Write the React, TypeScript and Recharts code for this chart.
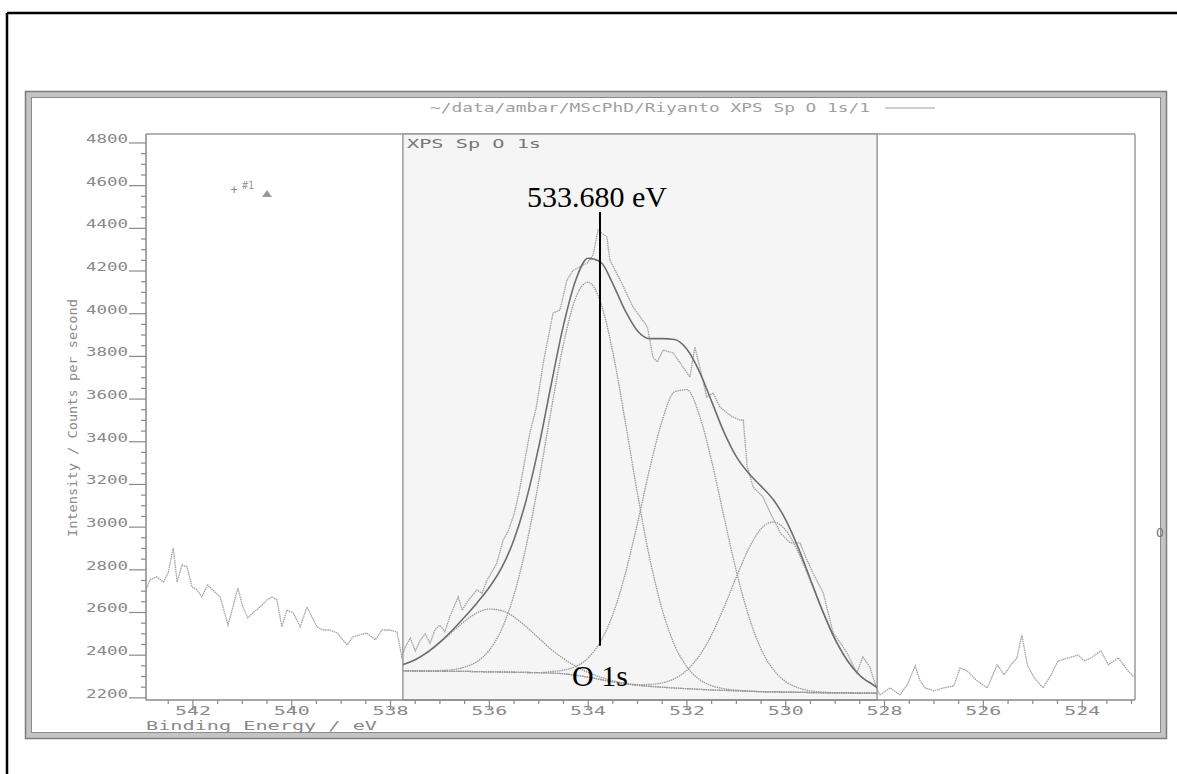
import React from 'react'
import { LineChart, Line, XAxis, YAxis, ReferenceArea, ReferenceLine } from 'recharts'

// raw O 1s spectrum: binding energy (eV) and counts per second
const rawEnergy = [
  542.97, 542.87, 542.73, 542.6, 542.5, 542.4, 542.32, 542.22, 542.12, 542.02,
  541.92, 541.82, 541.7, 541.6, 541.45, 541.29, 541.19, 541.09, 540.99, 540.89,
  540.79, 540.64, 540.5, 540.4, 540.3, 540.2, 540.1, 539.97, 539.83, 539.69,
  539.59, 539.49, 539.37, 539.23, 539.08, 538.88, 538.76, 538.62, 538.48, 538.31,
  538.17, 538.01, 537.87, 537.77, 537.7, 537.6, 537.5, 537.4, 537.3, 537.2,
  537.1, 537.0, 536.9, 536.8, 536.63, 536.55, 536.45, 536.25, 536.15, 536.05,
  535.95, 535.85, 535.72, 535.62, 535.5, 535.4, 535.3, 535.18, 535.05, 534.9,
  534.71, 534.57, 534.43, 534.3, 534.02, 533.9, 533.8, 533.62, 533.56, 533.35,
  533.09, 532.9, 532.8, 532.69, 532.6, 532.48, 532.28, 532.08, 531.94, 531.84,
  531.74, 531.6, 531.47, 531.33, 531.19, 531.07, 530.93, 530.86, 530.78, 530.66,
  530.46, 530.3, 530.11, 529.91, 529.71, 529.58, 529.45, 529.24, 529.04, 528.9,
  528.76, 528.56, 528.44, 528.3, 528.15, 528.09, 527.89, 527.69, 527.54, 527.38,
  527.28, 527.18, 527.0, 526.8, 526.6, 526.47, 526.33, 526.13, 525.92, 525.72,
  525.58, 525.44, 525.32, 525.22, 525.11, 524.97, 524.79, 524.63, 524.49, 524.28,
  524.08, 523.96, 523.82, 523.62, 523.47, 523.27, 523.07, 522.93,
]
const rawCounts = [
  2696, 2753, 2767, 2743, 2785, 2903, 2743, 2823, 2814, 2720,
  2706, 2673, 2729, 2706, 2673, 2542, 2626, 2715, 2626, 2575,
  2598, 2626, 2659, 2673, 2659, 2533, 2612, 2598, 2533, 2626,
  2579, 2533, 2518, 2518, 2504, 2448, 2486, 2495, 2504, 2472,
  2518, 2518, 2509, 2392, 2440, 2480, 2420, 2470, 2500, 2455,
  2520, 2540, 2510, 2580, 2673, 2610, 2650, 2706, 2690, 2750,
  2790, 2830, 2940, 2980, 3060, 3160, 3290, 3441, 3560, 3780,
  4003, 4017, 4157, 4204, 4237, 4275, 4392, 4359, 4251, 4157,
  4031, 3970, 3938, 3797, 3774, 3830, 3816, 3750, 3703, 3844,
  3750, 3610, 3628, 3563, 3535, 3516, 3502, 3502, 3282, 3188,
  3141, 3060, 2973, 2926, 2926, 2850, 2785, 2692, 2504, 2460,
  2411, 2317, 2392, 2345, 2237, 2214, 2247, 2214, 2261, 2350,
  2280, 2247, 2233, 2247, 2256, 2340, 2326, 2280, 2247, 2355,
  2308, 2355, 2387, 2495, 2355, 2294, 2247, 2308, 2373, 2387,
  2401, 2373, 2387, 2420, 2355, 2387, 2326, 2294,
]

// fitted region (538 - 528 eV)
const fitEnergy = [
  537.75, 537.5, 537.25, 537.0, 536.75, 536.5, 536.25, 536.0, 535.75, 535.5,
  535.25, 535.0, 534.75, 534.5, 534.25, 534.0, 533.75, 533.5, 533.25, 533.0,
  532.75, 532.5, 532.25, 532.0, 531.75, 531.5, 531.25, 531.0, 530.75, 530.5,
  530.25, 530.0, 529.75, 529.5, 529.25, 529.0, 528.75, 528.5, 528.25, 528.15,
]
const backgroundCounts = [
  2326, 2326, 2325, 2325, 2324, 2324, 2323, 2322, 2321, 2320,
  2319, 2318, 2316, 2313, 2306, 2297, 2286, 2275, 2266, 2259,
  2254, 2250, 2246, 2243, 2240, 2237, 2235, 2233, 2231, 2229,
  2228, 2227, 2226, 2225, 2224, 2223, 2223, 2222, 2222, 2222,
]
const peak536 = [
  2356, 2379, 2413, 2458, 2509, 2559, 2598, 2616, 2609, 2579,
  2533, 2480, 2428, 2384, 2348, 2319, 2297, 2280, 2268, 2259,
  2254, 2250, 2246, 2243, 2240, 2237, 2235, 2233, 2231, 2229,
  2228, 2227, 2226, 2225, 2224, 2223, 2223, 2222, 2222, 2222,
]
const peak534 = [
  2326, 2326, 2326, 2328, 2332, 2344, 2370, 2424, 2522, 2683,
  2916, 3214, 3547, 3857, 4075, 4148, 4055, 3819, 3497, 3155,
  2851, 2613, 2447, 2345, 2287, 2257, 2243, 2236, 2232, 2229,
  2228, 2227, 2226, 2225, 2224, 2223, 2223, 2222, 2222, 2222,
]
const peak532 = [
  2326, 2326, 2325, 2325, 2324, 2324, 2323, 2322, 2321, 2320,
  2319, 2318, 2323, 2330, 2347, 2387, 2463, 2591, 2780, 3020,
  3277, 3500, 3634, 3644, 3526, 3310, 3048, 2794, 2583, 2429,
  2332, 2276, 2247, 2233, 2227, 2224, 2223, 2222, 2222, 2222,
]
const peak530 = [
  2326, 2326, 2325, 2325, 2324, 2324, 2323, 2322, 2321, 2320,
  2319, 2318, 2316, 2313, 2306, 2297, 2286, 2275, 2267, 2262,
  2263, 2270, 2290, 2330, 2397, 2496, 2624, 2766, 2899, 2992,
  3024, 2985, 2884, 2747, 2602, 2473, 2374, 2305, 2264, 2250,
]
const envelopeCounts = [
  2356, 2379, 2414, 2461, 2517, 2579, 2645, 2718, 2810, 2942,
  3130, 3376, 3666, 3945, 4158, 4260, 4243, 4140, 4014, 3919,
  3883, 3883, 3879, 3833, 3730, 3589, 3445, 3330, 3252, 3192,
  3128, 3034, 2905, 2755, 2605, 2474, 2374, 2305, 2264, 2250,
]

const yLabels = [2200, 2400, 2600, 2800, 3000, 3200, 3400, 3600, 3800, 4000, 4200, 4400, 4600, 4800]
const xLabels = [542, 540, 538, 536, 534, 532, 530, 528, 526, 524]

const toRows = (es: number[], vs: number[]) => es.map((e, i) => ({ e, v: vs[i] }))
const rawData = toRows(rawEnergy, rawCounts)
const fitSeries = [
  { key: 'bg', values: backgroundCounts },
  { key: 'p536', values: peak536 },
  { key: 'p534', values: peak534 },
  { key: 'p532', values: peak532 },
  { key: 'p530', values: peak530 },
]

const yTicks: number[] = []
for (let v = 2200; v <= 4800; v += 50) yTicks.push(v)
const xTicks: number[] = []
for (let v = 523; v <= 542.5; v += 0.5) xTicks.push(v)

const MONO = '"DejaVu Sans Mono", monospace'
const SERIF = '"Liberation Serif", "Times New Roman", serif'
const GREY = '#8a8a8a'

// plotter-style text: short glyphs stretched wide
function Mono(props: any) {
  const { len, children, ...rest } = props
  return (
    <text fontFamily={MONO} textLength={len} lengthAdjust="spacingAndGlyphs" fill={GREY} {...rest}>
      {children}
    </text>
  )
}

function YTick(props: any) {
  const { x, y, payload } = props
  const v = payload.value
  const major = yLabels.includes(v)
  return (
    <g>
      <line x1={x - (major ? 17 : 5)} x2={x} y1={y} y2={y} stroke="#8a8a8a" strokeWidth={1.2} />
      {major && (
        <Mono x={x - 18} y={y} textAnchor="end" fontSize={13} len={42}>
          {v}
        </Mono>
      )}
    </g>
  )
}

function XTick(props: any) {
  const { x, y, payload } = props
  const v = payload.value
  const major = xLabels.includes(v)
  return (
    <g>
      <line x1={x} x2={x} y1={y} y2={y + (major ? 10 : 4)} stroke="#8a8a8a" strokeWidth={1.2} />
      {major && (
        <Mono x={x} y={y + 15} textAnchor="middle" fontSize={12} len={36}>
          {v}
        </Mono>
      )}
    </g>
  )
}

export default function App() {
  return (
    <div style={{ position: 'absolute', left: 0, top: 0, width: 1177, height: 774, background: '#fff', overflow: 'hidden' }}>
      <svg width={1177} height={774} style={{ position: 'absolute', left: 0, top: 0 }}>
        <line x1={7} y1={13} x2={1177} y2={13} stroke="#000" strokeWidth={2.5} />
        <line x1={7} y1={13} x2={7} y2={774} stroke="#000" strokeWidth={2.5} />
        <rect x={28.5} y={94.5} width={1135} height={641} fill="none" stroke="#c4c4c4" strokeWidth={6} />
        <rect x={25.5} y={91.5} width={1141} height={647} fill="none" stroke="#7c7c7c" strokeWidth={1.5} />
        <rect x={31.5} y={97.5} width={1129} height={635} fill="none" stroke="#8c8c8c" strokeWidth={1} />
        <Mono x={430} y={112} fontSize={13} len={440} fill="#a0a0a0">
          ~/data/ambar/MScPhD/Riyanto XPS Sp O 1s/1
        </Mono>
        <line x1={885} y1={108} x2={935} y2={108} stroke="#a0a0a0" strokeWidth={1.2} />
        <line x1={146} y1={134} x2={1135} y2={134} stroke="#9a9a9a" strokeWidth={1.5} />
        <line x1={1135} y1={134} x2={1135} y2={700} stroke="#9a9a9a" strokeWidth={1.5} />
        <Mono x={0} y={0} transform="translate(77 418) rotate(-90)" textAnchor="middle" fontSize={13} len={238}>
          Intensity / Counts per second
        </Mono>
        <Mono x={146} y={730} fontSize={12} len={231}>
          Binding Energy / eV
        </Mono>
        <text x={1160} y={537} textAnchor="middle" fontFamily={MONO} fontSize={13} fill="#777">
          O
        </text>
      </svg>

      <div style={{ position: 'absolute', left: 0, top: 0 }}>
        <LineChart width={1177} height={774} margin={{ top: 134, right: 42, bottom: 44, left: 86 }}>
          <XAxis
            dataKey="e"
            type="number"
            domain={[522.93, 542.95]}
            reversed
            allowDataOverflow
            ticks={xTicks}
            interval={0}
            tickSize={0}
            tickMargin={0}
            height={30}
            axisLine={{ stroke: '#8a8a8a', strokeWidth: 1.5 }}
            tick={(p: any) => <XTick {...p} />}
          />
          <YAxis
            type="number"
            domain={[2190, 4842]}
            allowDataOverflow
            ticks={yTicks}
            interval={0}
            tickSize={0}
            tickMargin={0}
            width={60}
            axisLine={{ stroke: '#8a8a8a', strokeWidth: 1.5 }}
            tick={(p: any) => <YTick {...p} />}
          />
          <ReferenceArea x1={528.15} x2={537.75} fill="#f5f5f5" fillOpacity={1} stroke="#9a9a9a" strokeWidth={1.5} />
          {fitSeries.map((s) => (
            <Line
              key={s.key}
              data={toRows(fitEnergy, s.values)}
              dataKey="v"
              type="monotone"
              stroke="#9a9a9a"
              strokeWidth={1.3}
              strokeDasharray="1.5 0.8"
              dot={false}
              activeDot={false}
              isAnimationActive={false}
            />
          ))}
          <Line
            data={rawData}
            dataKey="v"
            type="linear"
            stroke="#a2a2a2"
            strokeWidth={1.3}
            strokeDasharray="1.5 0.7"
            dot={false}
            activeDot={false}
            isAnimationActive={false}
          />
          <Line
            data={toRows(fitEnergy, envelopeCounts)}
            dataKey="v"
            type="monotone"
            stroke="#6e6e6e"
            strokeWidth={1.6}
            dot={false}
            activeDot={false}
            isAnimationActive={false}
          />
          <ReferenceLine
            segment={[{ x: 533.76, y: 2444 }, { x: 533.76, y: 4476 }]}
            stroke="#000"
            strokeWidth={2}
            ifOverflow="visible"
          />
        </LineChart>
      </div>

      <svg width={1177} height={774} style={{ position: 'absolute', left: 0, top: 0, pointerEvents: 'none' }}>
        <Mono x={407} y={148} fontSize={13} len={134} fill="#777">
          XPS Sp O 1s
        </Mono>
        <text x={234} y={194} textAnchor="middle" fontFamily={MONO} fontSize={12} fill="#888">+</text>
        <text x={242} y={189} fontFamily={MONO} fontSize={10} fill="#999">#1</text>
        <polygon points="262,197 272,197 267,190" fill="#999" />
        <text x={597} y={207} textAnchor="middle" fontFamily={SERIF} fontSize={30} fill="#000">
          533.680 eV
        </text>
        <text x={600} y={686} textAnchor="middle" fontFamily={SERIF} fontSize={30} fill="#000">
          O 1s
        </text>
      </svg>
    </div>
  )
}
